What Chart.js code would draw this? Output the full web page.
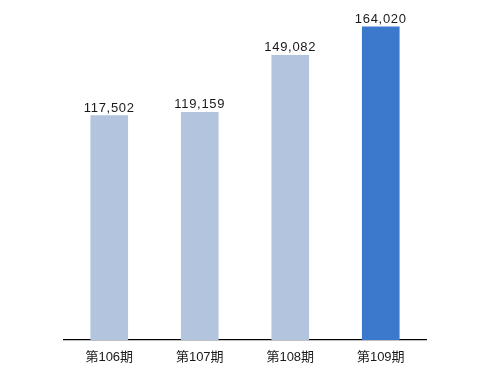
<!DOCTYPE html>
<html>
<head>
<meta charset="utf-8">
<script src="https://cdn.jsdelivr.net/npm/chart.js@4"></script>
<style>
  html, body { margin: 0; padding: 0; background: #fff; overflow: hidden; }
  canvas { display: block; }
</style>
</head>
<body>
<canvas id="chart" width="490" height="370"></canvas>
<script>
const periods = ['第106期', '第107期', '第108期', '第109期'];
const values = [117502, 119159, 149082, 164020];
const barColors = ['#b3c5de', '#b3c5de', '#b3c5de', '#3c79cd'];

const FONT = '"Liberation Sans", "Noto Sans CJK JP", sans-serif';

// draws the value above each bar
const valueLabels = {
    id: 'valueLabels',
    afterDatasetsDraw(chart) {
        const ctx = chart.ctx;
        const meta = chart.getDatasetMeta(0);
        ctx.save();
        ctx.font = '13px ' + FONT;
        ctx.letterSpacing = '0.7px';
        ctx.fillStyle = '#1a1a1a';
        ctx.textAlign = 'center';
        ctx.textBaseline = 'alphabetic';
        meta.data.forEach((bar, i) => {
            ctx.fillText(values[i].toLocaleString('en-US'), bar.x, bar.y - 4);
        });
        ctx.restore();
    }
};

const ctx = document.getElementById('chart').getContext('2d');
const myChart = new Chart(ctx, {
    type: 'bar',
    data: {
        labels: periods,
        datasets: [{
            data: values,
            backgroundColor: barColors,
            barThickness: 37
        }]
    },
    options: {
        responsive: false,
        animation: false,
        layout: {
            padding: { left: 64, right: 64, top: 15.3, bottom: 4 }
        },
        plugins: {
            legend: { display: false },
            tooltip: { enabled: false }
        },
        scales: {
            x: {
                grid: { display: false, drawTicks: false },
                border: { color: '#000', width: 1.3 },
                ticks: {
                    color: '#1a1a1a',
                    font: { family: FONT, size: 13 },
                    padding: 10
                },
                afterFit: (scale) => { scale.height = 26; }
            },
            y: {
                display: false,
                min: 0,
                max: 170000
            }
        }
    },
    plugins: [valueLabels]
});
</script>
</body>
</html>
